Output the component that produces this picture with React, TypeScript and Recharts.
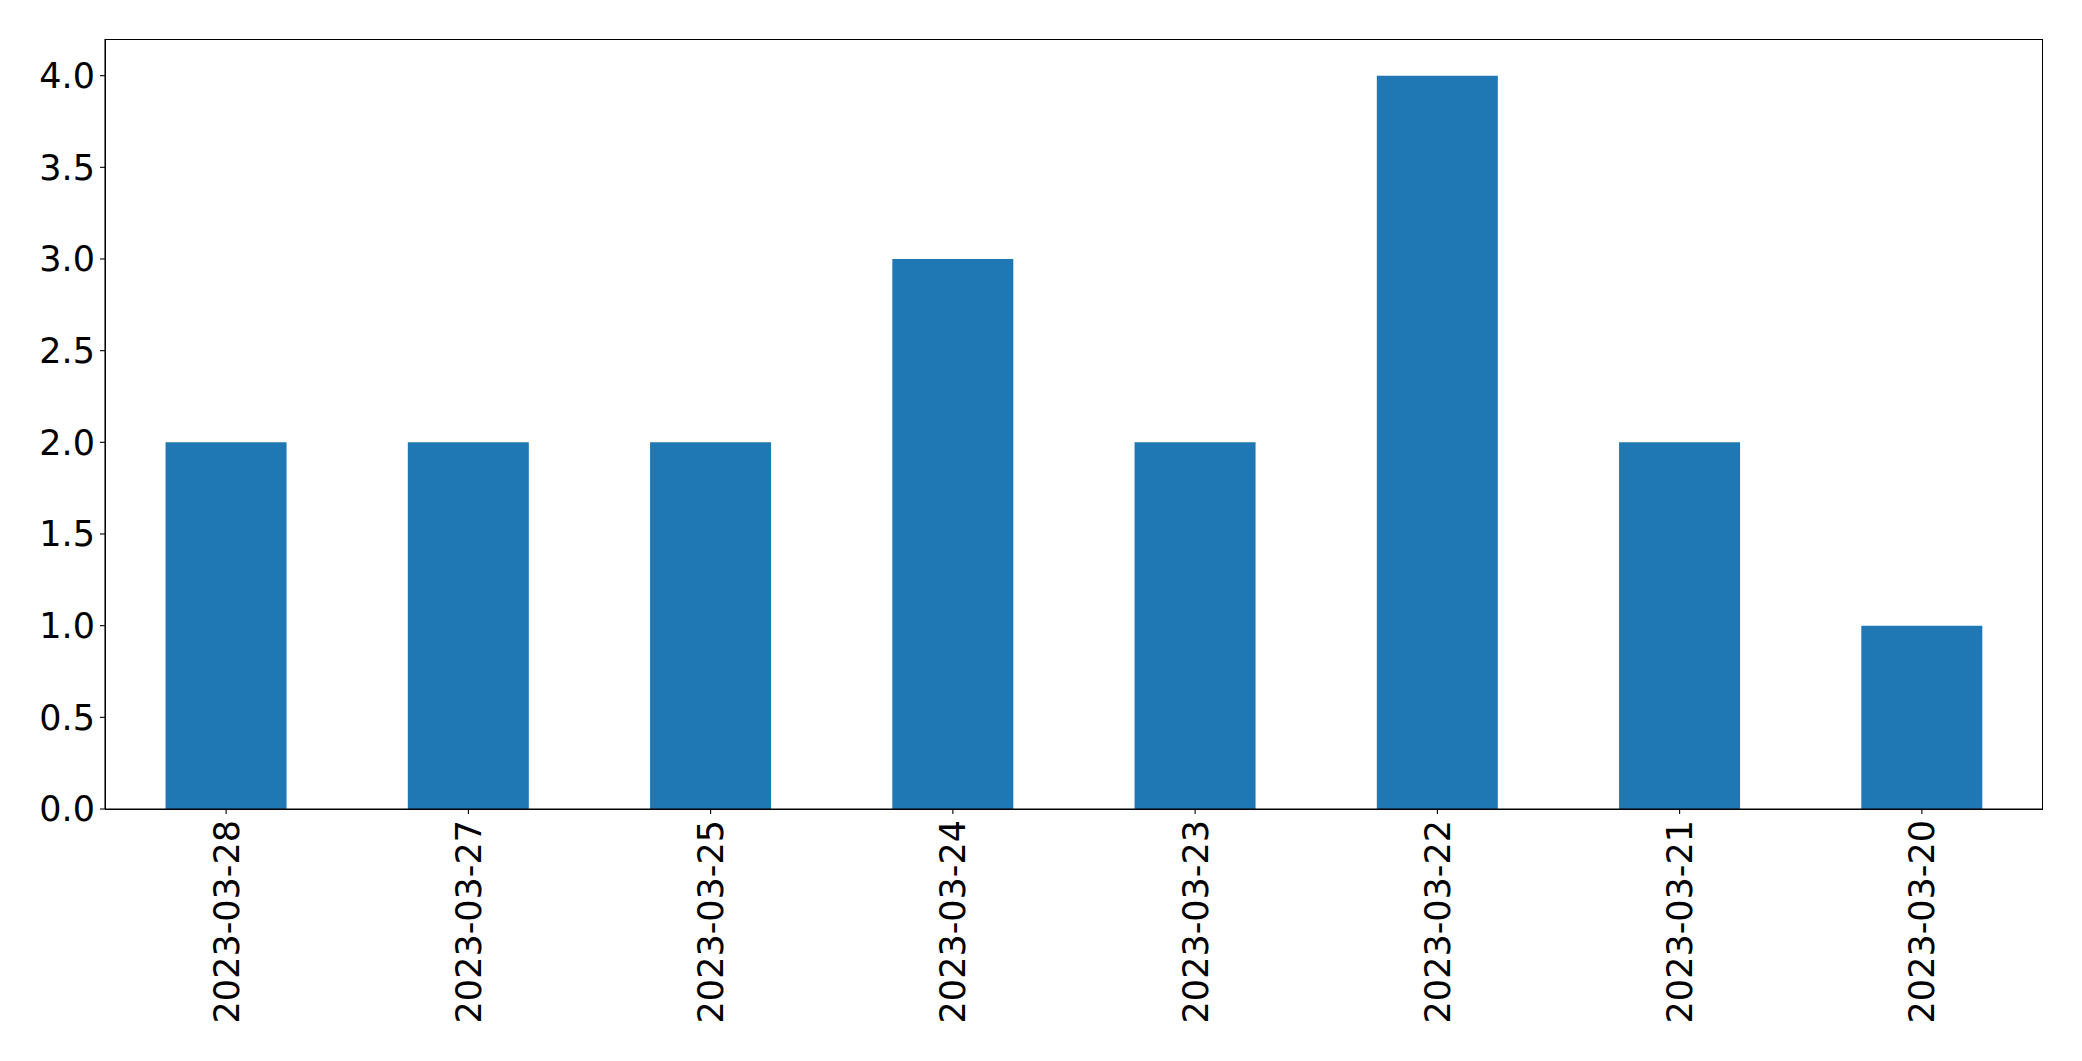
import React from "react";
import { BarChart, Bar, XAxis, YAxis } from "recharts";

const dates = [
  "2023-03-28",
  "2023-03-27",
  "2023-03-25",
  "2023-03-24",
  "2023-03-23",
  "2023-03-22",
  "2023-03-21",
  "2023-03-20",
];
const counts = [2, 2, 2, 3, 2, 4, 2, 1];
const yTicks = [0, 0.5, 1, 1.5, 2, 2.5, 3, 3.5, 4];

const data = dates.map((date, i) => ({ date, count: counts[i] }));

const FONT = "'DejaVu Sans', sans-serif";
const FONT_SIZE = 35;

const DateTick = (props: any) => {
  const { x, y, payload } = props;
  return (
    <text
      x={x}
      y={y}
      transform={`rotate(-90, ${x}, ${y})`}
      textAnchor="end"
      dy="0.36em"
      fontSize={FONT_SIZE}
      fontFamily={FONT}
      fill="#000"
    >
      {payload.value}
    </text>
  );
};

const App: React.FC = () => {
  return (
    <div style={{ position: "absolute", left: 0, top: 0, background: "#fff" }}>
      <BarChart
        width={2082}
        height={1061}
        data={data}
        margin={{ top: 39, right: 39, left: 5, bottom: 12 }}
        barCategoryGap="25%"
      >
        <XAxis
          dataKey="date"
          height={240}
          interval={0}
          tick={<DateTick />}
          tickSize={5}
          tickMargin={6}
          axisLine={{ stroke: "#000", strokeWidth: 1.1 }}
          tickLine={{ stroke: "#000", strokeWidth: 1.1 }}
        />
        <YAxis
          width={100}
          domain={[0, 4.2]}
          ticks={yTicks}
          interval={0}
          tickFormatter={(v: number) => v.toFixed(1)}
          tickSize={5}
          tickMargin={5}
          tick={{ fontSize: FONT_SIZE, fontFamily: FONT, fill: "#000" }}
          axisLine={{ stroke: "#000", strokeWidth: 1.1 }}
          tickLine={{ stroke: "#000", strokeWidth: 1.1 }}
        />
        <Bar dataKey="count" fill="#1f77b4" isAnimationActive={false} />
      </BarChart>
      {/* axes frame (matplotlib spines) */}
      <div
        style={{
          position: "absolute",
          left: 105,
          top: 39,
          width: 1938,
          height: 771,
          boxSizing: "border-box",
          border: "1px solid #000",
          pointerEvents: "none",
        }}
      />
    </div>
  );
};

export default App;
